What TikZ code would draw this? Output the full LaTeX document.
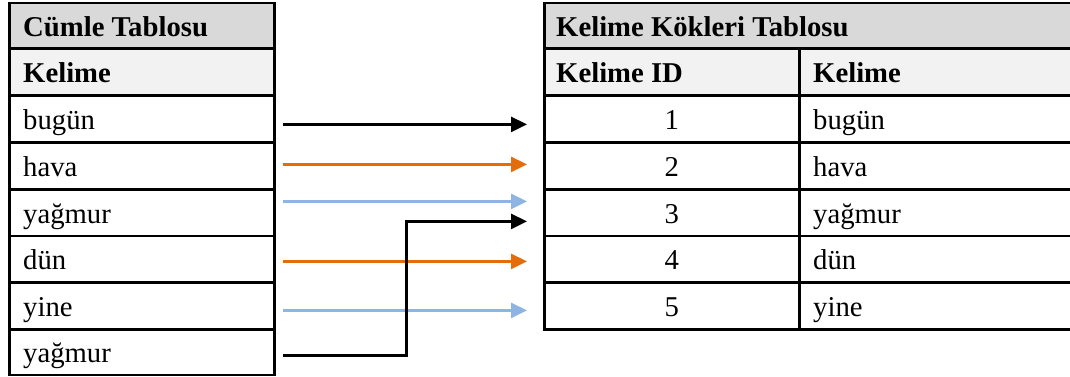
\documentclass[tikz,border=0pt]{standalone}
\usepackage{fontspec}
\setmainfont{Liberation Serif}
\usetikzlibrary{arrows.meta}
\definecolor{headgray}{HTML}{D9D9D9}
\definecolor{subgray}{HTML}{F2F2F2}
\definecolor{linkorange}{HTML}{E46C0A}
\definecolor{linkblue}{HTML}{8DB4E2}
\begin{document}
\begin{tikzpicture}[x=1pt,y=-1pt,
  cell/.style={draw=black, line width=2.8pt, inner sep=0pt, anchor=north west},
  txt/.style={inner sep=0pt, anchor=base west, font=\fontsize{28.7}{34}\selectfont},
  num/.style={inner sep=0pt, anchor=base, font=\fontsize{28.7}{34}\selectfont},
  link/.style={line width=2.7pt, -{Triangle[length=16pt,width=15pt]}},
]
\useasboundingbox (0,0) rectangle (1070,376);

% ---- sentence table (left) ----
\node[cell, fill=headgray, minimum width=265pt, minimum height=45.5pt] (lh) at (8,1.5) {};
\node[txt] (lht) at ([xshift=15pt,yshift=-10.5pt]lh.west) {\bfseries Cümle Tablosu};
\node[cell, fill=subgray, minimum width=265pt, minimum height=47pt] (ls) at (8,47) {};
\node[txt] (lst) at ([xshift=15pt,yshift=-10.5pt]ls.west) {\bfseries Kelime};
\foreach \top/\h/\w/\n in {94/47/bugün/l1, 141/47/hava/l2, 188/46.5/yağmur/l3,
                          234.5/46.5/dün/l4, 281/47/yine/l5, 328/45.5/yağmur/l6}{
  \node[cell, minimum width=265pt, minimum height=\h pt] (\n) at (8,\top) {};
  \node[txt] (\n t) at ([xshift=15pt,yshift=-10.5pt]\n.west) {\w};
}

% ---- word root table (right) ----
\node[cell, fill=headgray, minimum width=532pt, minimum height=45.5pt] (rh) at (543,1.5) {};
\node[txt] (rht) at ([xshift=13pt,yshift=-10.5pt]rh.west) {\bfseries Kelime Kökleri Tablosu};
\node[cell, fill=subgray, minimum width=255pt, minimum height=47pt] (rsa) at (543,47) {};
\node[cell, fill=subgray, minimum width=277pt, minimum height=47pt] (rsb) at (798,47) {};
\node[txt] (rsat) at ([xshift=13pt,yshift=-10.5pt]rsa.west) {\bfseries Kelime ID};
\node[txt] (rsbt) at ([xshift=15pt,yshift=-10.5pt]rsb.west) {\bfseries Kelime};
\foreach \top/\h/\i/\w/\n in {94/47/1/bugün/r1, 141/47/2/hava/r2, 188/46.5/3/yağmur/r3,
                             234.5/46.5/4/dün/r4, 281/47/5/yine/r5}{
  \node[cell, minimum width=255pt, minimum height=\h pt] (\n a) at (543,\top) {};
  \node[cell, minimum width=277pt, minimum height=\h pt] (\n b) at (798,\top) {};
  \node[num] (\n at) at ([yshift=-10.5pt]\n a.center) {\i};
  \node[txt] (\n bt) at ([xshift=15pt,yshift=-10.5pt]\n b.west) {\w};
}

% ---- links from sentence words to word roots ----
\draw[link] ([xshift=7pt,yshift=-5.5pt]l1.east) -- ([xshift=-16pt,yshift=-5.5pt]r1a.west);
\draw[link, linkorange] ([xshift=7pt,yshift=1.5pt]l2.east) -- ([xshift=-16pt,yshift=1.5pt]r2a.west);
\draw[link, linkblue] ([xshift=7pt,yshift=11.25pt]l3.east) -- ([xshift=-16pt,yshift=11.25pt]r3a.west);
\draw[link, linkorange] ([xshift=7pt,yshift=-2.25pt]l4.east) -- ([xshift=-16pt,yshift=-2.25pt]r4a.west);
\draw[link, linkblue] ([xshift=7pt,yshift=-4.5pt]l5.east) -- ([xshift=-16pt,yshift=-4.5pt]r5a.west);
\draw[link] ([xshift=7pt,yshift=-3.25pt]l6.east) -- ++(124,0) |- ([xshift=-16pt,yshift=-8.75pt]r3a.west);
\end{tikzpicture}
\end{document}
